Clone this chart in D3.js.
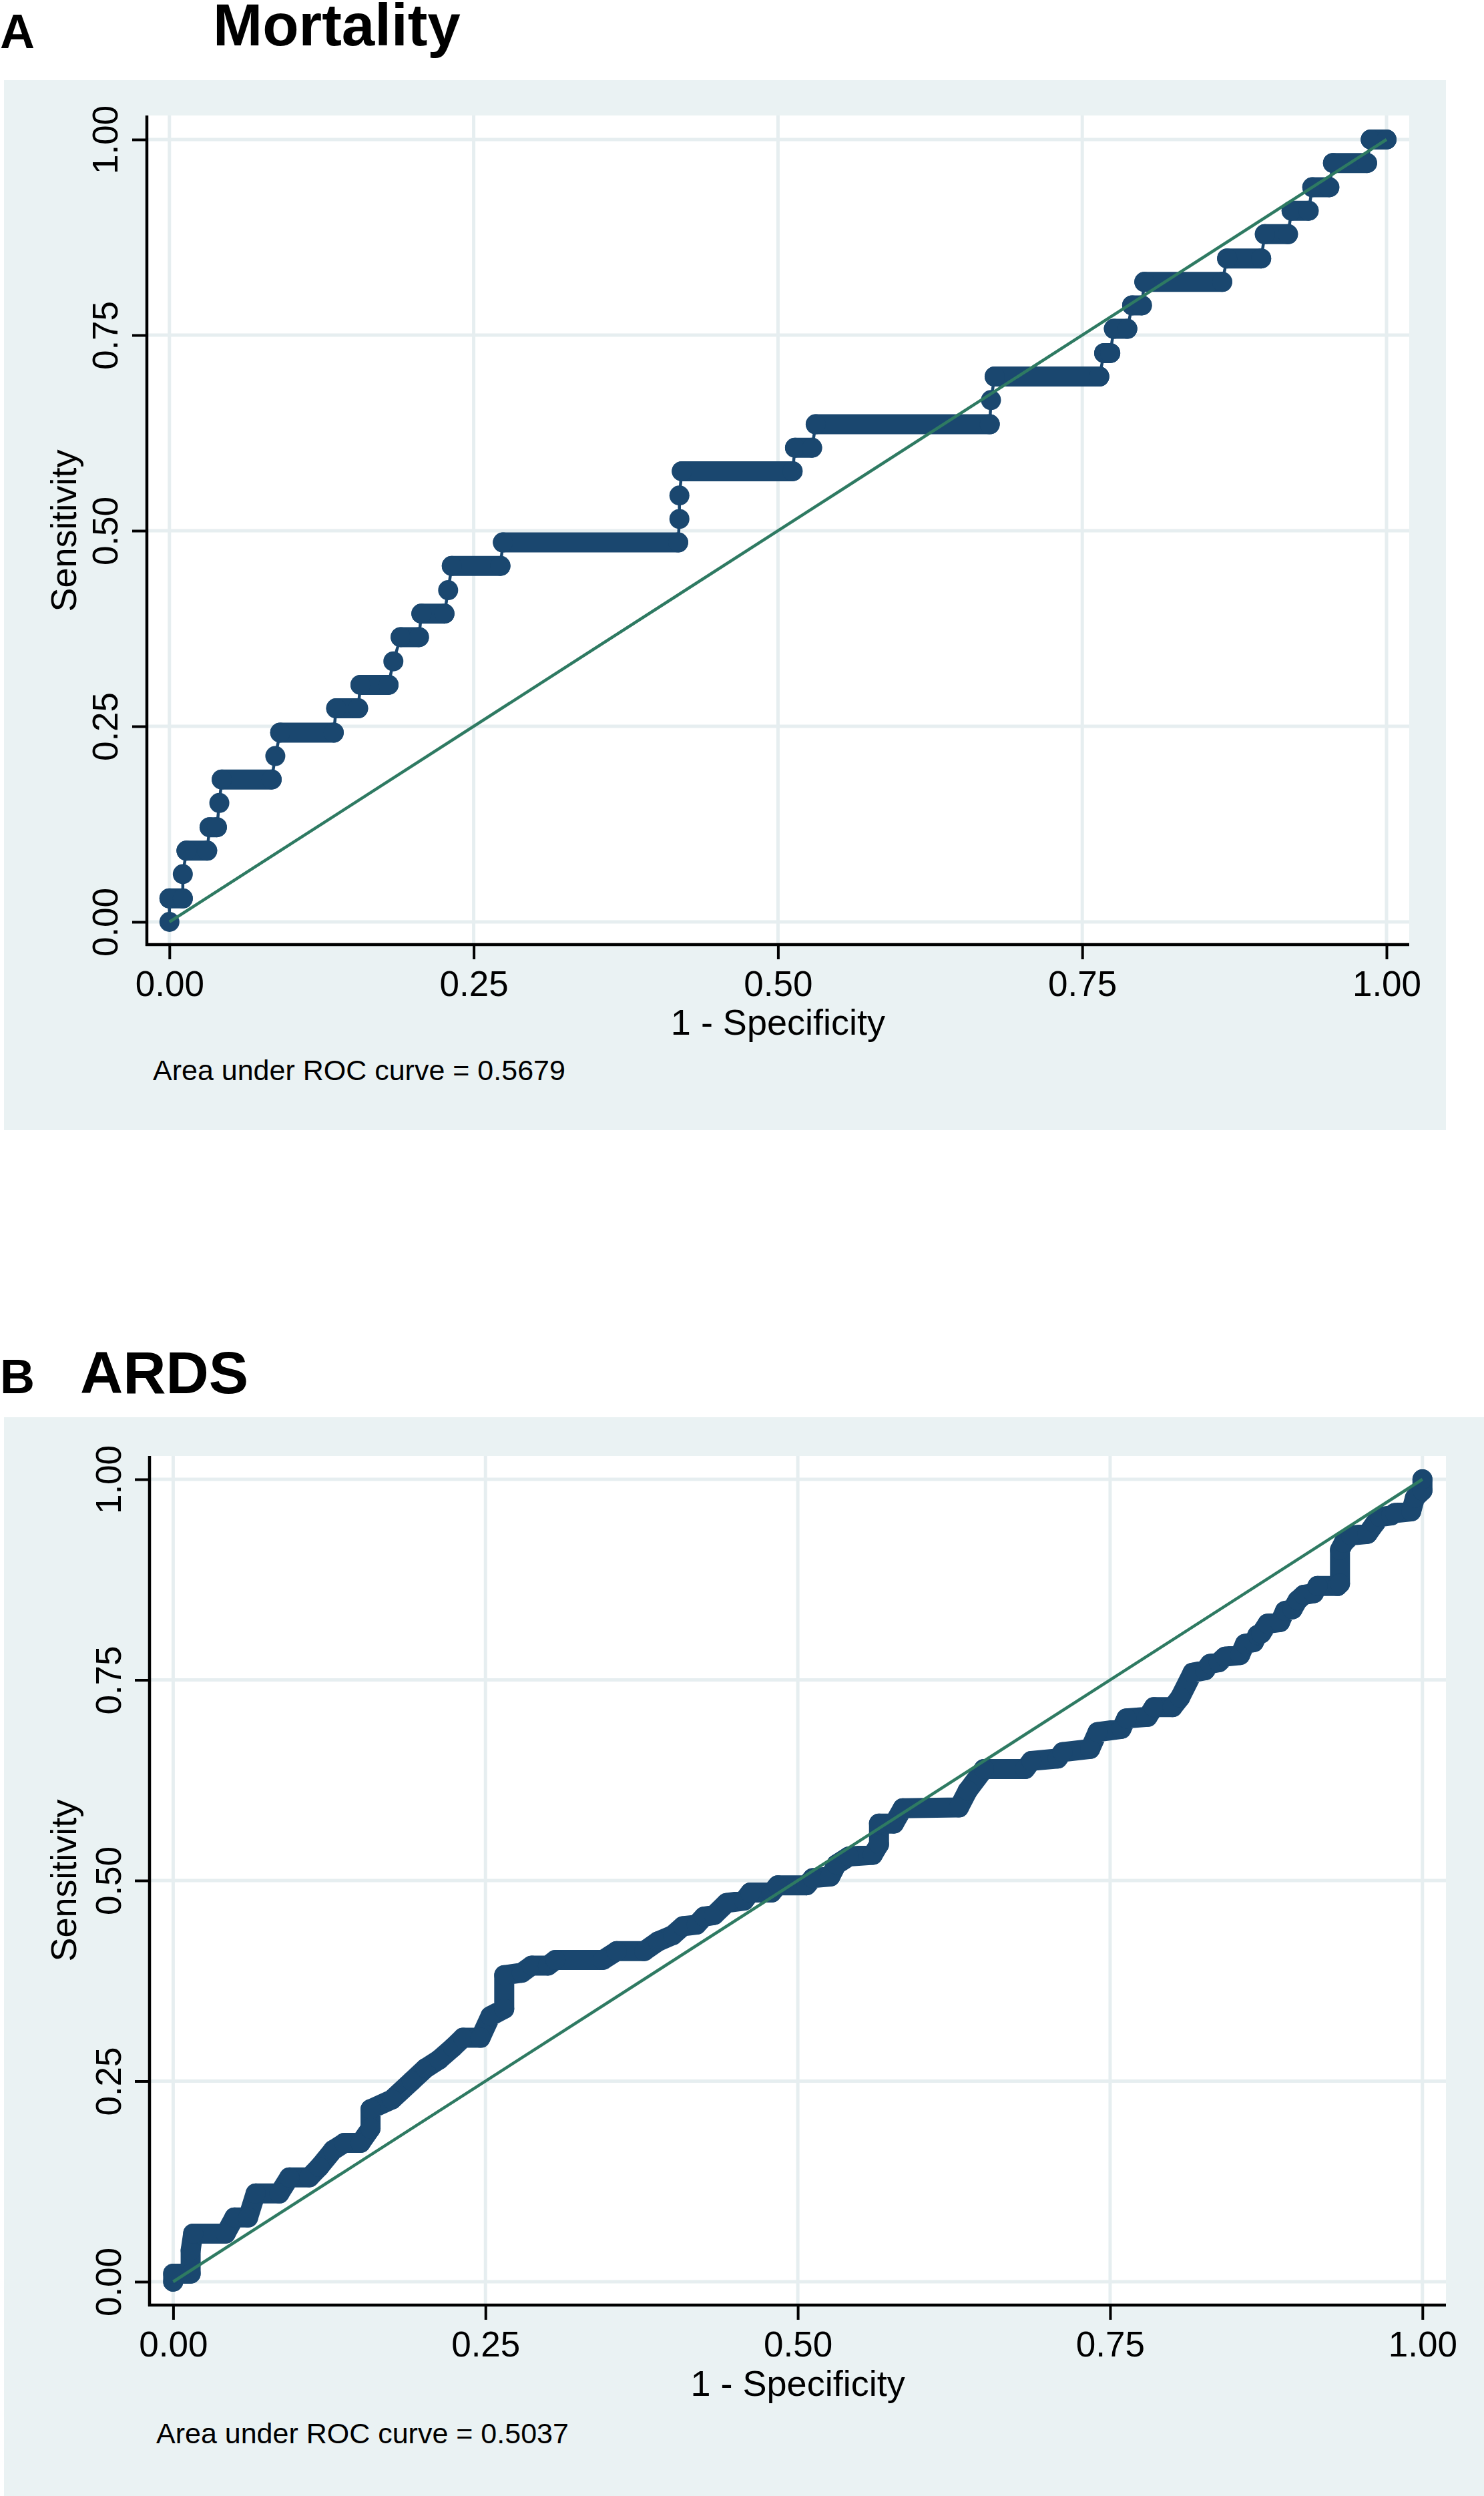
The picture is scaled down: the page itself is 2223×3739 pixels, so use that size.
<!DOCTYPE html>
<html>
<head>
<meta charset="utf-8">
<script src="https://cdn.jsdelivr.net/npm/d3@7"></script>
<style>
  html, body { margin: 0; padding: 0; background: #ffffff; }
  svg { display: block; }
  text { font-family: "Liberation Sans", Arial, Helvetica, sans-serif; }
</style>
</head>
<body>
<script>
// ---------------- DATA ----------------
const axisTicks = [0, 0.25, 0.5, 0.75, 1];
const panelLetters = ["A", "B"];
const panelTitles = ["Mortality", "ARDS"];
const aucLabels = ["Area under ROC curve = 0.5679", "Area under ROC curve = 0.5037"];
const xAxisTitle = "1 - Specificity";
const yAxisTitle = "Sensitivity";

// [1 - specificity, sensitivity] points of the Mortality ROC curve
const mortalityROC = [
  [0,0],[0,0.030],[0.011,0.030],[0.011,0.061],[0.014,0.091],[0.031,0.091],
  [0.033,0.121],[0.039,0.121],[0.041,0.152],[0.043,0.182],[0.084,0.182],
  [0.087,0.212],[0.091,0.242],[0.135,0.242],[0.137,0.273],[0.155,0.273],
  [0.157,0.303],[0.180,0.303],[0.184,0.333],[0.190,0.364],[0.205,0.364],
  [0.207,0.394],[0.226,0.394],[0.229,0.424],[0.232,0.455],[0.272,0.455],
  [0.274,0.485],[0.418,0.485],[0.419,0.515],[0.419,0.545],[0.421,0.576],
  [0.512,0.576],[0.514,0.606],[0.528,0.606],[0.531,0.636],[0.674,0.636],
  [0.675,0.667],[0.678,0.697],[0.764,0.697],[0.768,0.727],[0.773,0.727],
  [0.776,0.758],[0.787,0.758],[0.791,0.788],[0.799,0.788],[0.801,0.818],
  [0.865,0.818],[0.869,0.848],[0.897,0.848],[0.900,0.879],[0.919,0.879],
  [0.922,0.909],[0.936,0.909],[0.939,0.939],[0.953,0.939],[0.956,0.970],
  [0.984,0.970],[0.987,1.0],[1.0,1.0]
];

// [1 - specificity, sensitivity] points of the ARDS ROC curve
const ardsROC = [
  [0,0],[0,0.010],[0.014,0.010],[0.014,0.039],[0.016,0.060],[0.042,0.060],
  [0.049,0.080],[0.060,0.080],[0.066,0.110],[0.085,0.110],[0.093,0.130],
  [0.109,0.130],[0.117,0.143],[0.128,0.164],[0.137,0.173],[0.150,0.173],
  [0.158,0.191],[0.158,0.215],[0.175,0.227],[0.191,0.250],[0.202,0.266],
  [0.213,0.277],[0.224,0.292],[0.232,0.304],[0.246,0.304],[0.254,0.331],
  [0.265,0.340],[0.265,0.382],[0.279,0.385],[0.287,0.394],[0.300,0.394],
  [0.306,0.401],[0.344,0.401],[0.355,0.412],[0.377,0.412],[0.388,0.424],
  [0.400,0.432],[0.408,0.443],[0.419,0.445],[0.425,0.455],[0.433,0.457],
  [0.443,0.472],[0.457,0.475],[0.462,0.485],[0.479,0.485],[0.484,0.494],
  [0.507,0.494],[0.512,0.503],[0.526,0.505],[0.531,0.520],[0.541,0.530],
  [0.560,0.532],[0.565,0.545],[0.565,0.571],[0.577,0.571],[0.584,0.590],
  [0.629,0.591],[0.636,0.612],[0.649,0.639],[0.682,0.639],[0.687,0.649],
  [0.708,0.652],[0.712,0.660],[0.734,0.664],[0.740,0.685],[0.759,0.689],
  [0.763,0.702],[0.780,0.704],[0.785,0.716],[0.800,0.716],[0.806,0.728],
  [0.816,0.759],[0.826,0.762],[0.830,0.770],[0.837,0.772],[0.842,0.779],
  [0.854,0.781],[0.858,0.795],[0.865,0.797],[0.868,0.806],[0.871,0.808],
  [0.876,0.820],[0.886,0.822],[0.890,0.836],[0.896,0.838],[0.900,0.849],
  [0.905,0.856],[0.913,0.858],[0.916,0.867],[0.932,0.867],[0.934,0.870],
  [0.934,0.912],[0.937,0.921],[0.943,0.930],[0.956,0.932],[0.962,0.945],
  [0.966,0.953],[0.975,0.955],[0.978,0.958],[0.991,0.960],[0.994,0.977],
  [1.0,0.986],[1.0,1.0]
];
const referenceLine = [[0,0],[1,1]];

// ---------------- LAYOUT / STYLE ----------------
const W = 2223, H = 3739;
const NAVY = "#1a476f", GREEN = "#2e7a62", BG = "#eaf2f3", GRID = "#e6eef0";
const MARKER_R = 15;

const panels = [
  { roc: mortalityROC, thickAll: false,
    bg: {x: 6, y: 120, w: 2160, h: 1573},
    plot: {l: 220, t: 173, r: 2111, b: 1415},
    xr: [253.8, 2077], yr: [1381, 209],
    letter: {x: 0, y: 72}, title: {x: 319, y: 68},
    ytickBase: 44, xtickBase: 77, xtitleY: 1550, ytitleX: 114, aucPos: {x: 229, y: 1618} },
  { roc: ardsROC, thickAll: true,
    bg: {x: 6, y: 2123, w: 2217, h: 1616},
    plot: {l: 224, t: 2181, r: 2166, b: 3453},
    xr: [259.4, 2130.8], yr: [3418, 2216],
    letter: {x: 0, y: 2087}, title: {x: 120, y: 2087},
    ytickBase: 43, xtickBase: 77, xtitleY: 3589, ytitleX: 114, aucPos: {x: 234, y: 3660} }
];

const svg = d3.select("body").append("svg")
  .attr("width", W).attr("height", H).attr("viewBox", `0 0 ${W} ${H}`);

panels.forEach((p, i) => {
  const g = svg.append("g");
  const x = d3.scaleLinear().domain([0, 1]).range(p.xr);
  const y = d3.scaleLinear().domain([0, 1]).range(p.yr);

  // panel letter + title
  g.append("text").attr("x", p.letter.x).attr("y", p.letter.y)
    .attr("font-size", 72).attr("font-weight", "bold").attr("fill", "#000")
    .text(panelLetters[i]);
  g.append("text").attr("x", p.title.x).attr("y", p.title.y)
    .attr("font-size", 89).attr("font-weight", "bold").attr("fill", "#000")
    .text(panelTitles[i]);

  // graph region
  g.append("rect").attr("x", p.bg.x).attr("y", p.bg.y)
    .attr("width", p.bg.w).attr("height", p.bg.h).attr("fill", BG);
  // plot region
  g.append("rect").attr("x", p.plot.l).attr("y", p.plot.t)
    .attr("width", p.plot.r - p.plot.l).attr("height", p.plot.b - p.plot.t)
    .attr("fill", "#ffffff");

  // grid lines
  g.append("g").selectAll("line.gx").data(axisTicks).join("line")
    .attr("x1", d => x(d)).attr("x2", d => x(d))
    .attr("y1", p.plot.t).attr("y2", p.plot.b)
    .attr("stroke", GRID).attr("stroke-width", 5);
  g.append("g").selectAll("line.gy").data(axisTicks).join("line")
    .attr("x1", p.plot.l).attr("x2", p.plot.r)
    .attr("y1", d => y(d)).attr("y2", d => y(d))
    .attr("stroke", GRID).attr("stroke-width", 5);

  // ROC curve
  const pts = p.roc;
  const line = d3.line().x(d => x(d[0])).y(d => y(d[1]));
  const curve = g.append("g");
  if (p.thickAll) {
    curve.append("path").attr("d", line(pts))
      .attr("fill", "none").attr("stroke", NAVY)
      .attr("stroke-width", MARKER_R * 2)
      .attr("stroke-linejoin", "round").attr("stroke-linecap", "round");
  } else {
    // thin connector
    curve.append("path").attr("d", line(pts))
      .attr("fill", "none").attr("stroke", NAVY).attr("stroke-width", 4.5);
    // horizontal runs (overlapping markers)
    const runs = d3.pairs(pts).filter(([a, b]) => a[1] === b[1]);
    curve.selectAll("line.run").data(runs).join("line")
      .attr("x1", d => x(d[0][0])).attr("x2", d => x(d[1][0]))
      .attr("y1", d => y(d[0][1])).attr("y2", d => y(d[1][1]))
      .attr("stroke", NAVY).attr("stroke-width", MARKER_R * 2)
      .attr("stroke-linecap", "round");
  }
  curve.selectAll("circle").data(pts).join("circle")
    .attr("cx", d => x(d[0])).attr("cy", d => y(d[1]))
    .attr("r", MARKER_R).attr("fill", NAVY);

  // reference line
  g.append("path").attr("d", line(referenceLine))
    .attr("fill", "none").attr("stroke", GREEN).attr("stroke-width", 4.5);

  // axes
  const fmt = d3.format(".2f");
  const yAxis = g.append("g").attr("transform", `translate(${p.plot.l},0)`)
    .call(d3.axisLeft(y).tickValues(axisTicks).tickFormat(fmt).tickSize(22).tickSizeOuter(0));
  yAxis.select(".domain").remove();
  yAxis.selectAll(".tick line").attr("stroke", "#000").attr("stroke-width", 4);
  yAxis.selectAll(".tick text")
    .attr("transform", "rotate(-90)")
    .attr("x", 0).attr("y", -p.ytickBase).attr("dy", 0)
    .attr("text-anchor", "middle")
    .attr("font-size", 53).attr("fill", "#000")
    .attr("font-family", "'Liberation Sans', Arial, Helvetica, sans-serif");

  const xAxis = g.append("g").attr("transform", `translate(0,${p.plot.b})`)
    .call(d3.axisBottom(x).tickValues(axisTicks).tickFormat(fmt).tickSize(22).tickSizeOuter(0));
  xAxis.select(".domain").remove();
  xAxis.selectAll(".tick line").attr("stroke", "#000").attr("stroke-width", 4);
  xAxis.selectAll(".tick text")
    .attr("y", p.xtickBase).attr("dy", 0)
    .attr("font-size", 53).attr("fill", "#000")
    .attr("font-family", "'Liberation Sans', Arial, Helvetica, sans-serif");

  // axis lines spanning plot region
  g.append("line").attr("x1", p.plot.l).attr("x2", p.plot.l)
    .attr("y1", p.plot.t).attr("y2", p.plot.b + 2)
    .attr("stroke", "#000").attr("stroke-width", 4.5);
  g.append("line").attr("x1", p.plot.l - 2).attr("x2", p.plot.r)
    .attr("y1", p.plot.b).attr("y2", p.plot.b)
    .attr("stroke", "#000").attr("stroke-width", 4.5);

  // axis titles
  g.append("text").attr("x", (p.xr[0] + p.xr[1]) / 2).attr("y", p.xtitleY)
    .attr("text-anchor", "middle").attr("font-size", 54).attr("fill", "#000")
    .text(xAxisTitle);
  g.append("text")
    .attr("transform", `translate(${p.ytitleX},${(p.yr[0] + p.yr[1]) / 2}) rotate(-90)`)
    .attr("text-anchor", "middle").attr("font-size", 54).attr("fill", "#000")
    .text(yAxisTitle);

  // AUC note
  g.append("text").attr("x", p.aucPos.x).attr("y", p.aucPos.y)
    .attr("font-size", 43).attr("fill", "#000")
    .text(aucLabels[i]);
});
</script>
</body>
</html>
